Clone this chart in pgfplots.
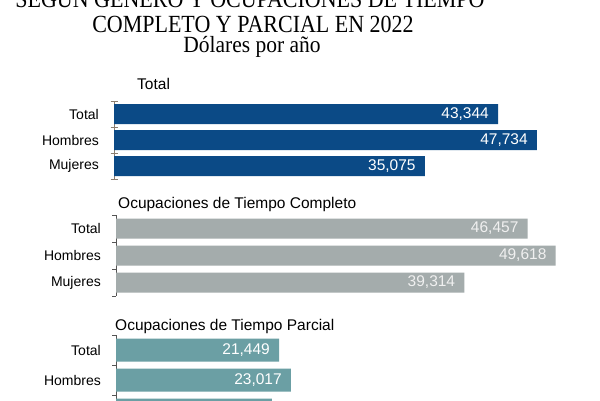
\documentclass[border=0pt]{standalone}
\usepackage{pgfplots}
\pgfplotsset{compat=1.18}
\usepackage{fontspec}
\setmainfont{Liberation Sans}
\newfontfamily\titlefont{Liberation Serif}

\definecolor{azul}{HTML}{0B4A86}
\definecolor{gris}{HTML}{A4ACAC}
\definecolor{verde}{HTML}{6B9FA4}
\definecolor{ejeA}{HTML}{8C7E70}
\definecolor{ejeB}{HTML}{555555}

\pgfplotsset{
  grupo/.style={
    xbar, scale only axis, xmin=0, xmax=50000,
    ymin=-0.5, ymax=2.5, y dir=reverse,
    bar shift=0pt,
    hide x axis, axis y line*=left, y axis line style={-},
    ytick={0,1,2}, yticklabels={Total,Hombres,Mujeres},
    major tick length=0pt,
    minor ytick={-0.5,0.5,1.5,2.5}, minor tick length=7pt,
    yticklabel style={font=\fontsize{14}{16}\selectfont, anchor=east, inner sep=0pt, xshift=-15pt},
    clip=false,
    nodes near coords={\pgfmathprintnumber[fixed,precision=0,1000 sep={,},assume math mode=true]{\pgfplotspointmeta}},
    every node near coord/.append style={anchor=east, inner sep=0pt, xshift=-9pt,
      font=\fontsize{15.5}{17}\selectfont},
  },
}

\begin{document}
\begin{tikzpicture}
\useasboundingbox (0,0) rectangle (600pt,-400pt);
\clip (0,0) rectangle (600pt,-400pt);
\fill[white] (0,0) rectangle (600pt,-400pt);

% Titulo
\node[anchor=base, inner sep=0pt, font=\titlefont\fontsize{22}{26}\selectfont] at (250pt,-7pt)
  {\scalebox{1}[1.12]{SEGÚN GÉNERO Y OCUPACIONES DE TIEMPO}};
\node[anchor=base, inner sep=0pt, font=\titlefont\fontsize{22}{26}\selectfont] at (253pt,-32pt)
  {\scalebox{1}[1.12]{COMPLETO Y PARCIAL EN 2022}};
\node[anchor=base, inner sep=0pt, font=\titlefont\fontsize{21.5}{25}\selectfont] at (252pt,-52pt)
  {\scalebox{1}[1.08]{Dólares por año}};

% Subtitulos de grupo
\node[anchor=base west, inner sep=0pt, font=\fontsize{15.5}{18}\selectfont] at (137pt,-89pt) {Total};
\node[anchor=base west, inner sep=0pt, font=\fontsize{15.5}{18}\selectfont] at (118pt,-208pt) {Ocupaciones de Tiempo Completo};
\node[anchor=base west, inner sep=0pt, font=\fontsize{15.5}{18}\selectfont] at (115pt,-330pt) {Ocupaciones de Tiempo Parcial};

% Total
\begin{axis}[grupo, at={(114pt,-179pt)}, anchor=south west,
  width=443pt, height=78pt, bar width=20pt,
  y axis line style={ejeA, line width=0.9pt}, minor tick style={ejeA, line width=0.9pt},
  minor tick length=7pt, ytick align=center,
  every node near coord/.append style={text=white}]
\addplot[fill=azul, draw=none] coordinates {(43344,0) (47734,1) (35075,2)};
\end{axis}

% Tiempo completo
\begin{axis}[grupo, at={(116pt,-296pt)}, anchor=south west,
  width=443pt, height=81pt, bar width=20pt,
  y axis line style={ejeB, line width=0.8pt}, minor tick style={ejeB, line width=0.8pt},
  minor tick length=4pt, ytick align=outside,
  every node near coord/.append style={text=white!94!black}]
\addplot[fill=gris, draw=none] coordinates {(46457,0) (49618,1) (39314,2)};
\end{axis}

% Tiempo parcial
\begin{axis}[grupo, at={(116pt,-425pt)}, anchor=south west,
  width=380pt, height=90pt, bar width=23pt,
  y axis line style={ejeB, line width=0.8pt}, minor tick style={ejeB, line width=0.8pt},
  minor tick length=4pt, ytick align=outside,
  every node near coord/.append style={text=white}]
\addplot[fill=verde, draw=none] coordinates {(21449,0) (23017,1) (20526,2)};
\end{axis}
\end{tikzpicture}
\end{document}
